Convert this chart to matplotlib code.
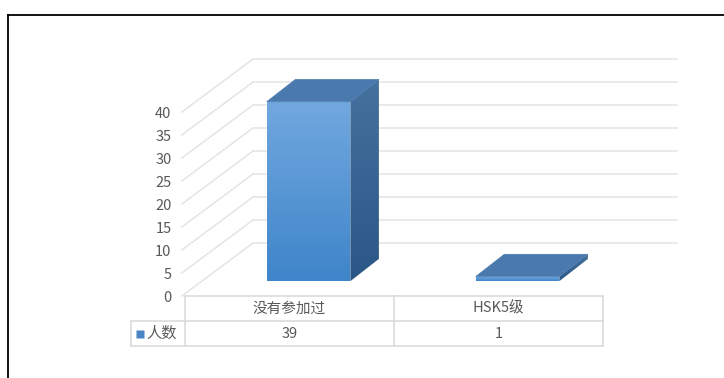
import matplotlib.pyplot as plt
import numpy as np
from matplotlib.patches import Polygon
from matplotlib.colors import LinearSegmentedColormap
from matplotlib.lines import Line2D

categories = ['没有参加过', 'HSK5级']
series_name = '人数'
counts = [39, 1]
yticks = [0, 5, 10, 15, 20, 25, 30, 35, 40]

plt.rcParams['font.family'] = ['Noto Sans CJK SC', 'DejaVu Sans']

W, H = 724, 378
PX_CAT = 209.0     # pixels per category on the front plane
PX_VAL = 4.6       # pixels per unit of value
X0, Y0 = 185, 296  # front-left corner of the floor (pixels from top-left)

fig = plt.figure(figsize=(W / 100, H / 100), dpi=100)
ax = fig.add_axes([0, 0, 1, 1])
ax.axis('off')

# oblique depth vector of the chart box
DX, DY = 68 / PX_CAT, 53 / PX_VAL
grid_c = '#e4e4e4'
text_c = '#595959'
line_c = '#d9d9d9'
ncat = len(categories)
right = ncat - 0.5

# left wall diagonals and back wall gridlines
for v in yticks:
    ax.plot([-0.5 - 0.015, -0.5 + DX], [v, v + DY], color=grid_c, lw=1.1, zorder=1)
    ax.plot([-0.5 + DX, right + DX + 0.03], [v + DY, v + DY], color=grid_c, lw=1.1, zorder=1)
    ax.text(-0.5 - 0.065, v - 0.5, str(v), ha='right', va='center',
            fontsize=10.5, color=text_c)

# bars
front_cm = LinearSegmentedColormap.from_list('front', ['#3f85ca', '#71a8df'])
side_cm = LinearSegmentedColormap.from_list('side', ['#2a5786', '#45719f'])
grad = np.linspace(0, 1, 256).reshape(-1, 1)
bw = 0.40
f0, f1 = 0.28, 0.70
for i, v in enumerate(counts):
    xl, xr = i - bw / 2, i + bw / 2
    a0x, a0y = f0 * DX, f0 * DY
    a1x, a1y = f1 * DX, f1 * DY
    front = Polygon([(xl + a0x, a0y), (xr + a0x, a0y), (xr + a0x, v + a0y), (xl + a0x, v + a0y)],
                    closed=True, facecolor='none', edgecolor='none')
    side = Polygon([(xr + a0x, a0y), (xr + a1x, a1y), (xr + a1x, v + a1y), (xr + a0x, v + a0y)],
                   closed=True, facecolor='none', edgecolor='none')
    ax.add_patch(front)
    ax.add_patch(side)
    im = ax.imshow(grad, cmap=front_cm, origin='lower', aspect='auto', zorder=3,
                   extent=(xl + a0x, xr + a0x, a0y, v + a0y))
    im.set_clip_path(front)
    im2 = ax.imshow(grad, cmap=side_cm, origin='lower', aspect='auto', zorder=3,
                    extent=(xr + a0x, xr + a1x, a0y, v + a1y))
    im2.set_clip_path(side)
    top = Polygon([(xl + a0x, v + a0y), (xr + a0x, v + a0y), (xr + a1x, v + a1y), (xl + a1x, v + a1y)],
                  closed=True, facecolor='#4a79ae', edgecolor='#4a79ae', lw=0.5, zorder=4)
    ax.add_patch(top)

ax.set_xlim(-0.5 - X0 / PX_CAT, -0.5 + (W - X0) / PX_CAT)
ax.set_ylim(-(H - Y0) / PX_VAL, Y0 / PX_VAL)

# data table under the floor
rh = 25 / PX_VAL
lab_l = -0.5 - 54 / PX_CAT
ax.plot([-0.5, right], [0, 0], color=line_c, lw=1.1, zorder=2)
ax.plot([lab_l, right], [-rh, -rh], color=line_c, lw=1.1)
ax.plot([lab_l, right], [-2 * rh, -2 * rh], color=line_c, lw=1.1)
ax.plot([lab_l, lab_l], [-rh, -2 * rh], color=line_c, lw=1.1)
for xv in np.arange(-0.5, right + 0.01, 1.0):
    ax.plot([xv, xv], [0, -2 * rh], color=line_c, lw=1.1)
for i, (cat, v) in enumerate(zip(categories, counts)):
    ax.text(i, -rh / 2, cat, ha='center', va='center', fontsize=10.5, color=text_c)
    ax.text(i, -1.5 * rh, str(v), ha='center', va='center', fontsize=10.5, color=text_c)
ax.plot([lab_l + 9 / PX_CAT], [-1.5 * rh], marker='s', ms=5.5, color='#4a86c4', mec='none')
ax.text(lab_l + 15 / PX_CAT, -1.5 * rh, series_name, ha='left', va='center',
        fontsize=11, color=text_c)

# outer frame
fig.add_artist(Line2D([8 / W, 1], [1 - 15 / H, 1 - 15 / H], color='black', lw=1.3))
fig.add_artist(Line2D([8 / W, 8 / W], [0, 1 - 15 / H], color='black', lw=1.3))

fig.savefig('out.png', dpi=100)
